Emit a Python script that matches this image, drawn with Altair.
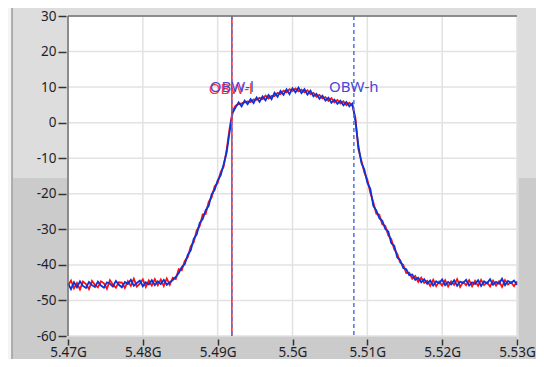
import altair as alt
import pandas as pd

# ---------------- data ----------------
N = 151
freq = [round(5.47 + 0.0004 * i, 4) for i in range(N)]

blue_db = [
    -45.2, -46.8, -44.9, -46.3, -44.6, -45.9, -46.5, -44.8, -45.7, -46.2,
    -44.7, -45.8, -46.4, -44.9, -45.3, -46.1, -44.5, -45.6, -46.3, -44.8,
    -45.4, -44.2, -45.9, -45.1, -44.4, -46.0, -44.9, -45.5, -44.3, -45.7,
    -44.6, -45.4, -44.2, -45.6, -44.9,
    -44.3, -43.4, -42.3, -40.6, -39.8, -37.2, -35.9, -32.7, -31.4, -28.2,
    -27.1, -24.6, -23.4, -20.1, -18.9, -16.2, -14.8, -11.7, -8.4, -2.5,
    2.8, 4.3, 5.7, 4.6, 6.2,
    5.2, 6.6, 5.5, 7.1, 5.9, 7.4, 6.3, 7.8, 6.6, 8.4,
    7.3, 8.9, 7.8, 9.4, 8.0, 9.7, 8.5, 9.9, 8.3, 9.4,
    7.9, 9.0, 7.4, 8.1, 6.7, 7.6, 6.2, 7.0, 5.6, 6.5,
    5.3, 6.2, 4.9, 5.8, 4.6, 5.4,
    0.6, -6.5, -11.3, -13.2, -16.9, -18.6, -23.4, -24.7, -26.9, -27.6,
    -29.9, -30.6, -33.9, -34.6, -37.9, -38.7, -40.9, -41.2, -42.9, -42.7,
    -44.2, -43.6, -44.9, -44.0,
    -45.3, -44.4, -45.8, -44.6, -45.2, -44.1, -45.7, -44.8, -45.5, -44.3,
    -45.9, -44.7, -45.1, -44.2, -45.8, -44.9, -45.4, -44.3, -45.9, -44.6,
    -45.2, -44.0, -45.6, -44.8, -45.3, -43.9, -45.7, -44.5, -45.1, -44.4,
    -45.6,
]

red_db = [
    -45.8, -44.4, -46.6, -45.1, -46.9, -44.7, -45.4, -46.8, -44.5, -45.6,
    -46.3, -44.6, -45.2, -46.7, -44.3, -45.5, -46.4, -44.9, -45.0, -46.5,
    -44.6, -45.9, -43.9, -46.1, -45.3, -44.1, -46.2, -44.4, -45.8, -44.0,
    -45.7, -44.1, -45.9, -43.8, -45.6,
    -43.6, -44.0, -41.2, -41.5, -38.9, -37.9, -34.8, -33.6, -30.3, -29.1,
    -25.8, -25.7, -22.3, -21.0, -17.9, -17.0, -13.9, -12.4, -7.6, -1.6,
    3.4, 4.8, 5.2, 5.4, 5.7,
    6.0, 5.8, 6.5, 6.4, 7.0, 6.6, 7.6, 6.8, 7.5, 7.5,
    8.4, 8.0, 9.0, 8.5, 9.4, 8.9, 9.6, 8.8, 9.3, 8.5,
    9.1, 8.0, 8.4, 7.3, 7.8, 6.8, 7.2, 6.1, 6.9, 5.7,
    6.4, 5.4, 6.0, 4.9, 5.6, 4.8,
    1.5, -7.4, -10.6, -14.0, -16.0, -19.7, -22.4, -25.6, -25.9, -28.6,
    -29.0, -31.7, -32.8, -35.6, -36.9, -39.4, -40.0, -42.3, -42.2, -43.9,
    -43.1, -44.8, -43.6, -45.1,
    -44.5, -45.9, -44.2, -46.0, -44.7, -45.8, -44.3, -46.1, -44.6, -45.6,
    -44.0, -46.2, -44.8, -45.7, -44.3, -46.0, -44.5, -45.9, -44.2, -45.7,
    -44.9, -46.1, -44.4, -45.8, -44.6, -46.2, -44.3, -45.5, -44.9, -46.0,
    -44.7,
]

x_ticks = [5.47, 5.48, 5.49, 5.50, 5.51, 5.52, 5.53]
y_ticks = [-60, -50, -40, -30, -20, -10, 0, 10, 20, 30]

obw_low = 5.4919
obw_high = 5.5082
label_texts = ["OBW-l", "OBW-l", "OBW-h"]
label_freqs = [obw_low, obw_low, obw_high]
label_levels = [10, 10, 10]
label_series = ["red", "blue", "blue"]

# ---------------- build ----------------
W, H = 449, 320
xs = alt.Scale(domain=[5.47, 5.53], nice=False, zero=False)
ys = alt.Scale(domain=[-60, 30], nice=False, zero=False)

n = min(len(freq), len(blue_db), len(red_db))
df_blue = pd.DataFrame({"f": freq[:n], "v": blue_db[:n]})
df_red = pd.DataFrame({"f": freq[:n], "v": red_db[:n]})
df_lab = pd.DataFrame({"f": label_freqs, "v": label_levels, "t": label_texts, "s": label_series})

FONT = "Noto Sans"
x_axis = alt.Axis(values=x_ticks, labelExpr="format(datum.value, '.3~f') + 'G'",
                  title=None, domain=False, grid=False, offset=3, tickSize=6, tickColor="#333",
                  tickWidth=1.5, labelFont=FONT, labelFontSize=13.5, labelColor="#1e1e2a",
                  labelPadding=0, labelFlush=False, labelOverlap=False, zindex=1)
y_axis = alt.Axis(values=y_ticks, title=None, domain=False, grid=False, offset=2, tickSize=8,
                  labelExpr="datum.value < 0 ? '-' + abs(datum.value) : '' + datum.value",
                  tickColor="#333", tickWidth=1.5, labelFont=FONT, labelFontSize=13.5,
                  labelColor="#1e1e2a", labelPadding=2, labelOverlap=False, zindex=1)

X = lambda: alt.X("f:Q", scale=xs, axis=x_axis)
Y = lambda: alt.Y("v:Q", scale=ys, axis=y_axis)

blank = alt.Data(values=[{}])

def bgrect(x1, x2, y1, y2, color):
    return alt.Chart(blank).mark_rect(color=color, clip=False).encode(
        x=alt.value(x1), x2=alt.value(x2), y=alt.value(y1), y2=alt.value(y2))

LOW = "#cbcbcb"
bg = [
    bgrect(-60, -56, -10, 345, "#f4f4f4"),
    bgrect(-55, 0, 162, 345, LOW),
    bgrect(0, W, H, 345, LOW),
    bgrect(W, W + 22, 162, 345, LOW),
    alt.Chart(blank).mark_rule(color="#9a9a9a", strokeWidth=1.5, clip=False).encode(
        x=alt.value(-56), y=alt.value(-10), y2=alt.value(345)),
    alt.Chart(blank).mark_rule(color="#ececec", strokeWidth=1, clip=False).encode(
        x=alt.value(W + 1), y=alt.value(162), y2=alt.value(345)),
]

GRID = "#e2e2e2"
grid_x = alt.Chart(pd.DataFrame({"f": x_ticks})).mark_rule(color=GRID, strokeWidth=1.5).encode(x=X())
grid_y = alt.Chart(pd.DataFrame({"v": y_ticks})).mark_rule(color=GRID, strokeWidth=1.5).encode(y=Y())

red_line = alt.Chart(df_red).mark_line(color="#ff1010", strokeWidth=1.8).encode(x=X(), y=Y())
blue_line = alt.Chart(df_blue).mark_line(color="#0a34d8", strokeWidth=1.8).encode(x=X(), y=Y())

mk_red = alt.Chart(pd.DataFrame({"f": [obw_low]})).mark_rule(color="#ff2020", strokeWidth=1.5).encode(x=X())
mk_blue = alt.Chart(pd.DataFrame({"f": [obw_low, obw_high]})).mark_rule(
    color="#4f74e8", strokeWidth=1.5, strokeDash=[4, 3]).encode(x=X())

lab_red = alt.Chart(df_lab[df_lab.s == "red"]).mark_text(
    font=FONT, fontSize=15, color="#ff3030", align="center", baseline="middle", dx=-1, dy=2).encode(
    x=X(), y=Y(), text="t:N")
lab_blue = alt.Chart(df_lab[df_lab.s == "blue"]).mark_text(
    font=FONT, fontSize=15, color="#4a44d4", align="center", baseline="middle").encode(
    x=X(), y=Y(), text="t:N")

borders = [
    alt.Chart(blank).mark_rule(color="#6e6e6e", strokeWidth=1.5, clip=False).encode(
        x=alt.value(0), y=alt.value(0), y2=alt.value(H)),
    alt.Chart(blank).mark_rule(color="#6e6e6e", strokeWidth=1.5, clip=False).encode(
        x=alt.value(0), x2=alt.value(W), y=alt.value(0)),
]

chart = alt.layer(*bg, grid_x, grid_y, red_line, blue_line, mk_red, mk_blue,
                  lab_red, lab_blue, *borders).properties(
    width=W, height=H,
    autosize=alt.AutoSizeParams(type="none"),
    padding={"left": 60, "top": 8, "right": 19, "bottom": 23},
    background="#dddddd",
).configure_view(fill="white", stroke=None)

chart.save("out.html", embed_options={"renderer": "svg", "actions": False})
